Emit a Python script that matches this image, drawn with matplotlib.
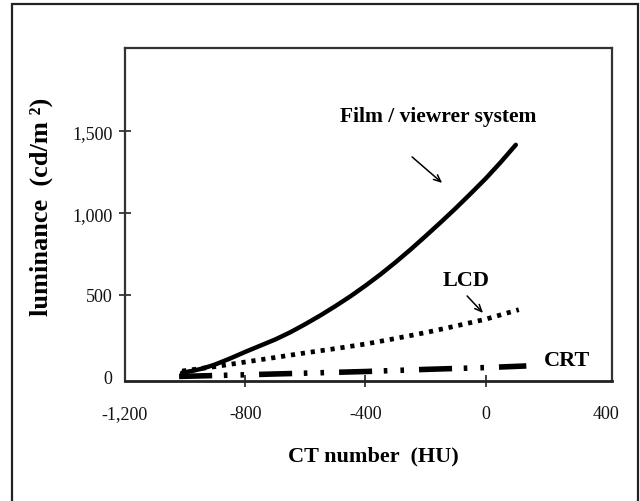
import matplotlib
matplotlib.use("Agg")
import matplotlib.pyplot as plt
from matplotlib.patches import Rectangle

plt.rcParams['lines.scale_dashes'] = False
plt.rcParams['font.family'] = ['Liberation Serif', 'DejaVu Serif']

# ---- data ----
film_x = [-1010, -975, -950, -925, -900, -850, -800, -750, -700, -650, -600, -550,
          -500, -450, -400, -350, -300, -250, -200, -150, -100, -50, 0, 50, 100]
film_y = [25, 36, 47, 60, 75, 112, 152, 190, 228, 272, 322, 375,
          432, 492, 557, 626, 700, 778, 860, 944, 1030, 1120, 1212, 1312, 1418]

lcd_x = [-1010, -900, -800, -700, -600, -500, -400, -300, -200, -100, 0, 110]
lcd_y = [35, 62, 90, 118, 146, 172, 200, 234, 270, 310, 352, 410]

crt_x = [-1020, -800, -600, -400, -200, 0, 135]
crt_y = [2, 12, 22, 32, 45, 56, 66]

x_ticks = [-1200, -800, -400, 0, 400]
x_tick_labels = ["-1,200", "-800", "-400", "0", "400"]
y_ticks = [0, 500, 1000, 1500]
y_tick_labels = ["0", "500", "1,000", "1,500"]

x_title = "CT number  (HU)"
y_title = "luminance  (cd/m \u00b2)"
film_name = "Film / viewrer system"
lcd_name = "LCD"
crt_name = "CRT"

# ---- figure ----
fig = plt.figure(figsize=(6.4, 5.02), dpi=100)
ax = fig.add_axes([125/640, 1-382/502, 487/640, 333/502])

ax.plot(film_x, film_y, color='black', lw=3.2, solid_capstyle='round',
        solid_joinstyle='round')
ax.plot(lcd_x, lcd_y, color='black', lw=3.4, linestyle=(0, (3.0, 4.2)),
        dash_capstyle='butt')
ax.plot(crt_x, crt_y, color='black', lw=4.0,
        linestyle=(0, (23.8, 8.4, 2.6, 9.4, 2.6, 10.8)), dash_capstyle='butt')

ax.set_xlim(-1200, 420)
ax.set_ylim(-26, 2010)

ax.set_xticks(x_ticks)
ax.set_xticklabels(x_tick_labels)
ax.set_yticks(y_ticks)
ax.set_yticklabels(y_tick_labels)
ax.tick_params(axis='both', direction='inout', length=8, width=1.2,
               colors='#222222', labelsize=13, labelcolor='#111111')
ax.tick_params(axis='x', pad=13)
ax.tick_params(axis='y', pad=5)
for t in (ax.xaxis.get_major_ticks()[0], ax.xaxis.get_major_ticks()[-1],
          ax.yaxis.get_major_ticks()[0]):
    t.tick1line.set_visible(False)

for s in ax.spines.values():
    s.set_linewidth(1.6)
    s.set_color('#333333')
ax.spines['bottom'].set_linewidth(2.0)
ax.spines['bottom'].set_color('#222222')

ax.set_xlabel(x_title, fontsize=16, fontweight='bold', va='center', ha='center')
ax.xaxis.set_label_coords(0.509, -0.225)
ax.set_ylabel(y_title, fontsize=19, fontweight='bold', va='center', ha='center')
ax.yaxis.set_label_coords(-0.172, 0.525)

ax.text(-159, 1594, film_name, fontsize=15.5, fontweight='bold',
        ha='center', va='center')
ax.annotate('', xy=(-145, 1185), xytext=(-245, 1344),
            arrowprops=dict(arrowstyle='->,head_length=0.5,head_width=0.22',
                            lw=1.1, color='black', shrinkA=0, shrinkB=0))
ax.text(-66, 592, lcd_name, fontsize=16, fontweight='bold',
        ha='center', va='center')
ax.annotate('', xy=(-9, 390), xytext=(-62, 494),
            arrowprops=dict(arrowstyle='->,head_length=0.5,head_width=0.22',
                            lw=1.1, color='black', shrinkA=0, shrinkB=0))
ax.text(270, 102, crt_name, fontsize=16, fontweight='bold',
        ha='center', va='center')

# outer frame
fig.add_artist(Rectangle((12/640, -0.02), (638-12)/640, (1-5/502)+0.02,
                         transform=fig.transFigure, fill=False, lw=1.6,
                         ec='#222222', clip_on=False))

fig.savefig('out.png', dpi=100)
